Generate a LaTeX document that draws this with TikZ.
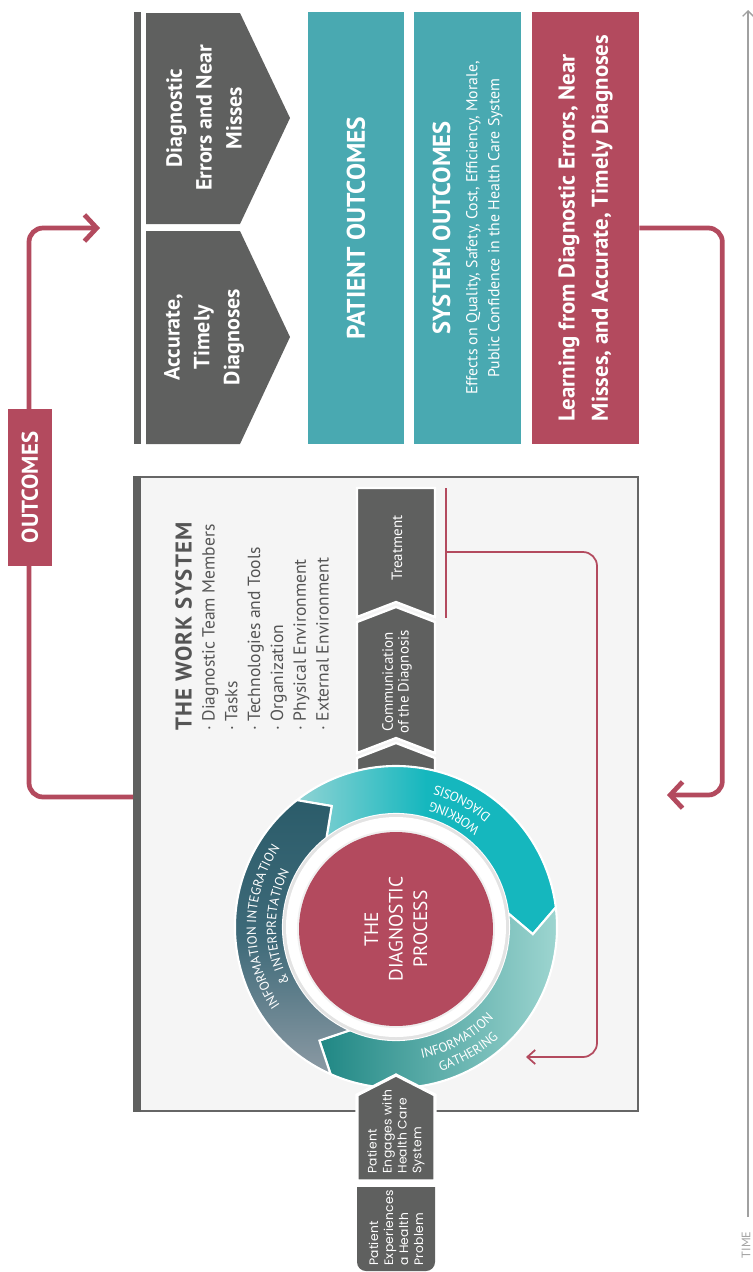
\documentclass[tikz,border=0pt]{standalone}
\usepackage{fontspec}
\setmainfont{PT Sans}
\newfontfamily\geofont[LetterSpace=2]{Poppins}
\newfontfamily\wsfont[LetterSpace=5]{PT Sans}
\usetikzlibrary{arrows.meta, decorations.text}

\definecolor{chevgrey}{HTML}{5F605F}
\definecolor{wsfill}{HTML}{F5F5F5}
\definecolor{wsborder}{HTML}{666666}
\definecolor{outteal}{HTML}{49A9B1}
\definecolor{learnred}{HTML}{B34A5E}
\definecolor{wdlight}{HTML}{8FD3D4}
\definecolor{wdbright}{HTML}{15B7BE}
\definecolor{iglight}{HTML}{A2D8D3}
\definecolor{igdark}{HTML}{1F8784}
\definecolor{iidark}{HTML}{2B5C6A}
\definecolor{iimid}{HTML}{3E6A79}
\definecolor{iilight}{HTML}{8C9AA4}
\definecolor{wstext}{HTML}{555555}
\definecolor{timegrey}{HTML}{A0A0A0}

\tikzstyle{arrow} = [line width=2.7pt, learnred, rounded corners=8pt, -{Straight Barb[length=7pt, width=15pt]}]
\tikzstyle{thinarrow} = [line width=1pt, learnred, rounded corners=8pt, -{Straight Barb[length=4.5pt, width=8pt]}]
\tikzstyle{box} = [rotate=90, text=white, inner sep=0pt, align=center]
\tikzstyle{flowpiece} = [fill=chevgrey, draw=white, line width=1.3pt]
\tikzstyle{segment} = [draw=white, line width=1.2pt]
\tikzstyle{ringtext} = [decorate, decoration={text along path, text align=center, text color=white}]
\newcommand{\ringfont}{\fontsize{7.5}{8}\selectfont}

\begin{document}
\begin{tikzpicture}[x=0.02cm, y=0.02cm]
\useasboundingbox (0,0) rectangle (753,-1272);

% outcomes column
\fill[chevgrey] (134,-12) rectangle (141,-444);
\fill[chevgrey] (146,-13) -- (240,-13) -- (290,-118) -- (240,-224) -- (146,-224) -- cycle;
\fill[chevgrey] (146,-231) -- (240,-231) -- (290,-337) -- (240,-444) -- (146,-444) -- cycle;
\node[box, font=\bfseries\fontsize{12.5}{17}\selectfont] (errors) at (204,-118) {Diagnostic\\Errors and Near\\Misses};
\node[box, font=\bfseries\fontsize{12.5}{17}\selectfont] (accurate) at (204,-337) {Accurate,\\Timely\\Diagnoses};

\node[box, fill=outteal, minimum width=8.64cm, minimum height=1.92cm, font=\bfseries\fontsize{14.5}{16}\selectfont] (patout) at (356,-228) {PATIENT OUTCOMES};
\node[box, fill=outteal, minimum width=8.64cm, minimum height=2.14cm, font=\fontsize{9}{12.5}\selectfont] (sysout) at (467.5,-228)
  {{\bfseries\fontsize{14}{16}\selectfont SYSTEM OUTCOMES}\\[3pt]Effects on Quality, Safety, Cost, Efficiency, Morale,\\Public Confidence in the Health Care System};
\node[box, fill=learnred, minimum width=8.64cm, minimum height=2.14cm, align=left, font=\bfseries\fontsize{13}{19}\selectfont] (learn) at (585.5,-228)
  {Learning from Diagnostic Errors, Near\\Misses, and Accurate, Timely Diagnoses};

% time axis
\coordinate (tbot) at (748,-1217);
\coordinate (ttop) at (748,-10);
\draw[timegrey, line width=0.8pt, -{Straight Barb[length=3pt, width=6pt]}] (tbot) -- (ttop);
\node[rotate=90, inner sep=0pt, text=timegrey, font=\fontsize{7}{8}\selectfont] (timelbl) at (746,-1245) {TIME};

% the work system
\fill[wsfill] (136,-477) rectangle (638,-1111);
\draw[wsborder, line width=1.1pt] (136,-477) rectangle (638,-1111);
\fill[chevgrey] (133,-476) rectangle (141,-1112);
\node[rotate=90, anchor=north west, inner sep=0pt, align=left, text=wstext, font=\fontsize{10}{13}\selectfont] (wslist) at (175,-731)
  {{\wsfont\bfseries\fontsize{13}{13}\selectfont THE WORK SYSTEM}\\· Diagnostic Team Members\\· Tasks\\· Technologies and Tools\\· Organization\\· Physical Environment\\· External Environment};

% flow bar
\filldraw[flowpiece] (357,-488) -- (435,-488) -- (435,-617) -- (396,-602) -- (357,-617) -- cycle;
\filldraw[flowpiece] (357,-622) -- (396,-607) -- (435,-622) -- (435,-753) -- (396,-738) -- (357,-753) -- cycle;
\filldraw[flowpiece] (357,-758) -- (396,-743) -- (435,-758) -- (435,-800) -- (357,-800) -- cycle;
\node[box, font=\fontsize{8.5}{9}\selectfont] (treat) at (397,-548) {Treatment};
\node[box, font=\fontsize{8.5}{9}\selectfont] (comm) at (397,-682) {Communication\\of the Diagnosis};

% the diagnostic process
\begin{scope}[shift={(396,-927)}]
\path[segment, left color=wdlight, right color=wdbright, middle color=wdbright]
  (128:161) arc[start angle=128, end angle=7, radius=161] -- (-3:137) -- (7:113)
  arc[start angle=7, end angle=128, radius=113] -- (118:137) -- cycle;
\path[segment, left color=igdark, right color=iglight]
  (7:161) arc[start angle=7, end angle=-114, radius=161] -- (-124:137) -- (-114:113)
  arc[start angle=-114, end angle=7, radius=113] -- (-3:137) -- cycle;
\path[segment, top color=iidark, bottom color=iilight, middle color=iimid]
  (-114:161) arc[start angle=-114, end angle=-232, radius=161] -- (-242:137) -- (-232:113)
  arc[start angle=-232, end angle=-114, radius=113] -- (-124:137) -- cycle;
\fill[gray!22] (0,0) circle (113);
\fill[white] (0,0) circle (110);
\fill[gray!12] (0,-2) circle (99);

\path[ringtext, decoration={text={|\ringfont|WORKING}}] (12:130) arc[start angle=12, end angle=112, radius=130];
\path[ringtext, decoration={text={|\ringfont|DIAGNOSIS}}] (12:147) arc[start angle=12, end angle=112, radius=147];
\path[ringtext, decoration={text={|\ringfont|INFORMATION}}] (-111:134) arc[start angle=-111, end angle=-11, radius=134];
\path[ringtext, decoration={text={|\ringfont|GATHERING}}] (-110:151) arc[start angle=-110, end angle=-10, radius=151];
\path[ringtext, decoration={text={|\ringfont|INFORMATION INTEGRATION}}] (235:140) arc[start angle=235, end angle=125, radius=140];
\path[ringtext, decoration={text={|\ringfont|{\&} INTERPRETATION}}] (235:120) arc[start angle=235, end angle=125, radius=120];
\end{scope}
\node[circle, fill=learnred, minimum size=3.88cm, box, font=\fontsize{11}{14}\selectfont] (dproc) at (396,-929) {THE\\DIAGNOSTIC\\PROCESS};

% patient entry
\filldraw[flowpiece, line width=1.8pt] (357,-1181) -- (357,-1095) -- (396,-1075) -- (435,-1095) -- (435,-1181) -- cycle;
\fill[chevgrey] (357,-1187) -- (435,-1187) -- (435,-1262) arc[start angle=0, end angle=-90, radius=9] -- (366,-1271) arc[start angle=270, end angle=180, radius=9] -- cycle;
\node[box, anchor=west, align=left, font=\geofont\fontsize{7}{8.5}\selectfont] (engage) at (396,-1174) {Patient\\Engages with\\Health Care\\System};
\node[box, anchor=west, align=left, font=\geofont\fontsize{7}{8.5}\selectfont] (experience) at (396,-1266) {Patient\\Experiences\\a Health\\Problem};

% feedback connectors
\coordinate (wsw) at (133,-797);
\coordinate (outtip) at (100,-228);
\coordinate (fbtip) at (667,-795);
\coordinate (trtop) at (446,-488);
\coordinate (trbot) at (446,-618);
\coordinate (trmid) at (446,-552);
\coordinate (igtip) at (526,-1057);
\draw[arrow] (wsw) -- ++(-104,0) |- (outtip);
\node[box, fill=learnred, minimum width=3.14cm, minimum height=0.88cm, font=\bfseries\fontsize{13}{15}\selectfont] (outlabel) at (30,-487.5) {OUTCOMES};
\draw[arrow] (learn.south) -- ++(83,0) |- (fbtip);
\draw[learnred, line width=1pt] (trtop) -- (trbot);
\draw[thinarrow] (trmid) -- ++(151,0) |- (igtip);
\end{tikzpicture}
\end{document}
